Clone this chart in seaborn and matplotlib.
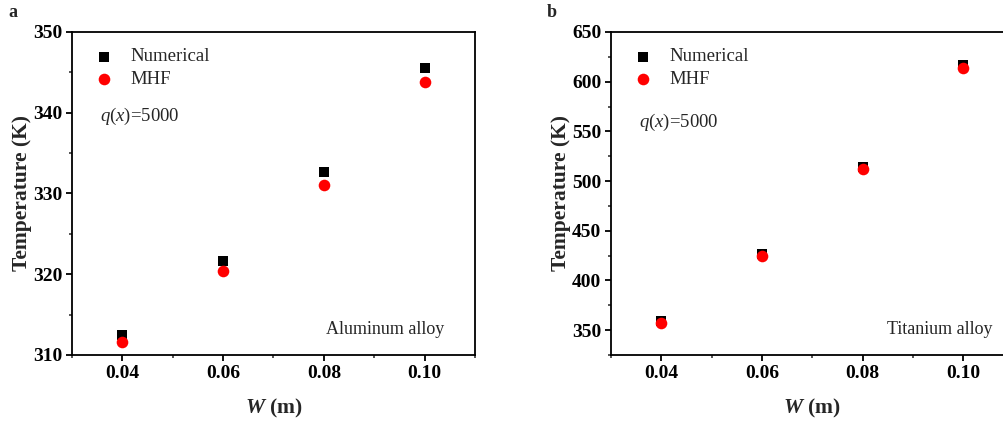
import matplotlib
matplotlib.use("Agg")
import matplotlib.pyplot as plt
import seaborn as sns
import numpy as np
from matplotlib.ticker import MultipleLocator

W = [0.04, 0.06, 0.08, 0.10]
al_numerical = [312.5, 321.7, 332.7, 345.5]
al_mhf = [311.6, 320.4, 331.1, 343.8]
ti_numerical = [359, 427, 514, 617]
ti_mhf = [357, 425, 512, 614]
x_ticks = [0.04, 0.06, 0.08, 0.10]
x_ticklabels = ["0.04", "0.06", "0.08", "0.10"]

sns.set_theme(style="ticks")
plt.rcParams['font.family'] = ['Liberation Serif', 'DejaVu Serif']
plt.rcParams['mathtext.fontset'] = 'custom'
plt.rcParams['mathtext.rm'] = 'Liberation Serif'
plt.rcParams['mathtext.it'] = 'Liberation Serif:italic'
plt.rcParams['mathtext.bf'] = 'Liberation Serif:bold'
plt.rcParams['mathtext.bfit'] = 'Liberation Serif:bold:italic'

fig = plt.figure(figsize=(10.04, 4.23), dpi=100)
axA = fig.add_axes([0.0717, 0.1608, 0.4014, 0.7636])
axB = fig.add_axes([0.6086, 0.1608, 0.4009, 0.7636])

def style_axes(ax, ylim, ymin, yticks):
    ax.set_xlim(0.03, 0.11)
    ax.set_ylim(*ylim)
    ax.set_xticks(x_ticks)
    ax.set_xticklabels(x_ticklabels)
    ax.xaxis.set_minor_locator(MultipleLocator(0.01))
    ax.set_yticks(yticks)
    ax.yaxis.set_minor_locator(MultipleLocator(ymin))
    for s in ax.spines.values():
        s.set_linewidth(1.3)
        s.set_color('black')
    ax.tick_params(axis='both', which='major', direction='out', length=4.5, width=1.3,
                   labelsize=14, colors='black', top=False, right=False, pad=2.5)
    ax.tick_params(axis='both', which='minor', direction='out', length=2.5, width=1.1,
                   top=False, right=False)
    for lab in ax.get_xticklabels() + ax.get_yticklabels():
        lab.set_fontweight('bold')
    ax.set_xlabel(r'$\boldsymbol{W}$ (m)', fontsize=15.5, fontweight='bold', labelpad=11)
    ax.set_ylabel('Temperature (K)', fontsize=15.5, fontweight='bold', labelpad=1)

for ax, num, mhf, ylim, yticks, ymin, alloy, ax_pos, q_y in [
    (axA, al_numerical, al_mhf, (310, 350), [310, 320, 330, 340, 350], 5, 'Aluminum alloy', 0.63, 0.74),
    (axB, ti_numerical, ti_mhf, (325, 650), [350, 400, 450, 500, 550, 600, 650], 25, 'Titanium alloy', 0.685, 0.72),
]:
    sns.scatterplot(x=W, y=num, ax=ax, marker='s', color='black', s=55, linewidth=0,
                    label='Numerical')
    sns.scatterplot(x=W, y=mhf, ax=ax, marker='o', color='red', s=70, linewidth=0,
                    label='MHF')
    style_axes(ax, ylim, ymin, yticks)
    ax.legend(loc='upper left', bbox_to_anchor=(0.02, 0.99), frameon=False,
              fontsize=13.5, handletextpad=0.8, labelspacing=0.3, borderaxespad=0.3,
              handlelength=1.2)
    ax.text(0.07, q_y, r'$\mathit{q}$($\mathit{x}$)=5000', transform=ax.transAxes,
            fontsize=13.5, va='center', ha='left')
    ax.text(ax_pos, 0.08, alloy, transform=ax.transAxes, fontsize=13, va='center')

axB.spines['right'].set_visible(False)

fig.text(0.008, 0.97, 'a', fontsize=13, fontweight='bold', va='center')
fig.text(0.545, 0.97, 'b', fontsize=13, fontweight='bold', va='center')

fig.savefig('out.png', dpi=100)
